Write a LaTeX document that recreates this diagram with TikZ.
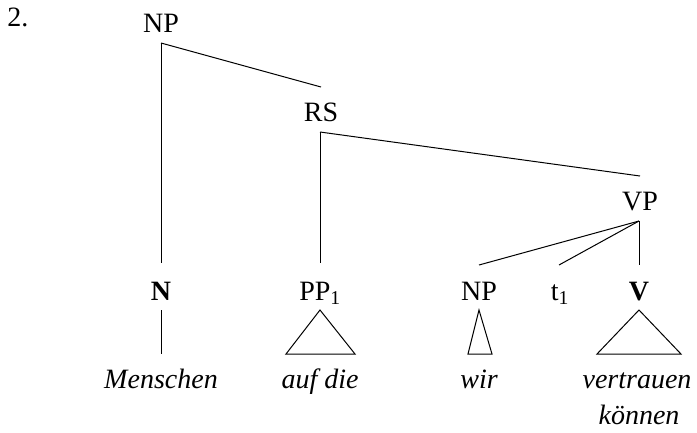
\documentclass[tikz,border=0pt]{standalone}
\usepackage{fontspec}
\setmainfont{Liberation Serif}
\begin{document}
\begin{tikzpicture}[x=1pt,y=-1pt,line width=1pt,
  lab/.style={anchor=base,inner sep=0pt,font=\fontsize{28}{33}\selectfont},
  leaf/.style={lab,font=\fontsize{28}{33}\selectfont\itshape}]
\useasboundingbox (0,0) rectangle (697,432);
% labels
\node[lab,anchor=base west] (num) at (7,26) {2.};
\node[lab] (np) at (161,32) {NP};
\node[lab] (rs) at (321,121) {RS};
\node[lab] (vp) at (640,210) {VP};
\node[lab] (n) at (161,300) {\textbf{N}};
\node[lab] (pp) at (320,300) {PP\textsubscript{1}};
\node[lab] (npb) at (479,300) {NP};
\node[lab] (t) at (560,300) {t\textsubscript{1}};
\node[lab] (v) at (639,300) {\textbf{V}};
\node[leaf] (menschen) at (161,388) {Menschen};
\node[leaf] (auf) at (320,388) {auf die};
\node[leaf] (wir) at (479,388) {wir};
\node[leaf] (vertrauen) at (637,388) {vertrauen};
\node[leaf] (koennen) at (639,424) {können};
% junction points
\coordinate (npD) at (161,43);
\coordinate (rsU) at (321,87);
\coordinate (rsD) at (320,132);
\coordinate (vpU) at (640,176);
\coordinate (vpD) at (639,221);
\coordinate (nU) at (161,263);
\coordinate (ppU) at (320,263);
\coordinate (npbU) at (479,265);
\coordinate (tU) at (559,265);
\coordinate (vU) at (639,265);
\coordinate (nD) at (161,310);
\coordinate (mU) at (161,354);
\coordinate (ppD) at (320,310);
\coordinate (ppL) at (286,354);
\coordinate (ppR) at (355,354);
\coordinate (npbD) at (479,310);
\coordinate (npbL) at (468,354);
\coordinate (npbR) at (492,354);
\coordinate (vD) at (639,310);
\coordinate (vL) at (597,354);
\coordinate (vR) at (681,354);
% branches
\draw (npD) -- (rsU);
\draw (npD) -- (nU);
\draw (rsD) -- (vpU);
\draw (rsD) -- (ppU);
\draw (vpD) -- (npbU);
\draw (vpD) -- (tU);
\draw (vpD) -- (vU);
\draw (nD) -- (mU);
\draw (ppD) -- (ppL) -- (ppR) -- cycle;
\draw (npbD) -- (npbL) -- (npbR) -- cycle;
\draw (vD) -- (vL) -- (vR) -- cycle;
\end{tikzpicture}
\end{document}
